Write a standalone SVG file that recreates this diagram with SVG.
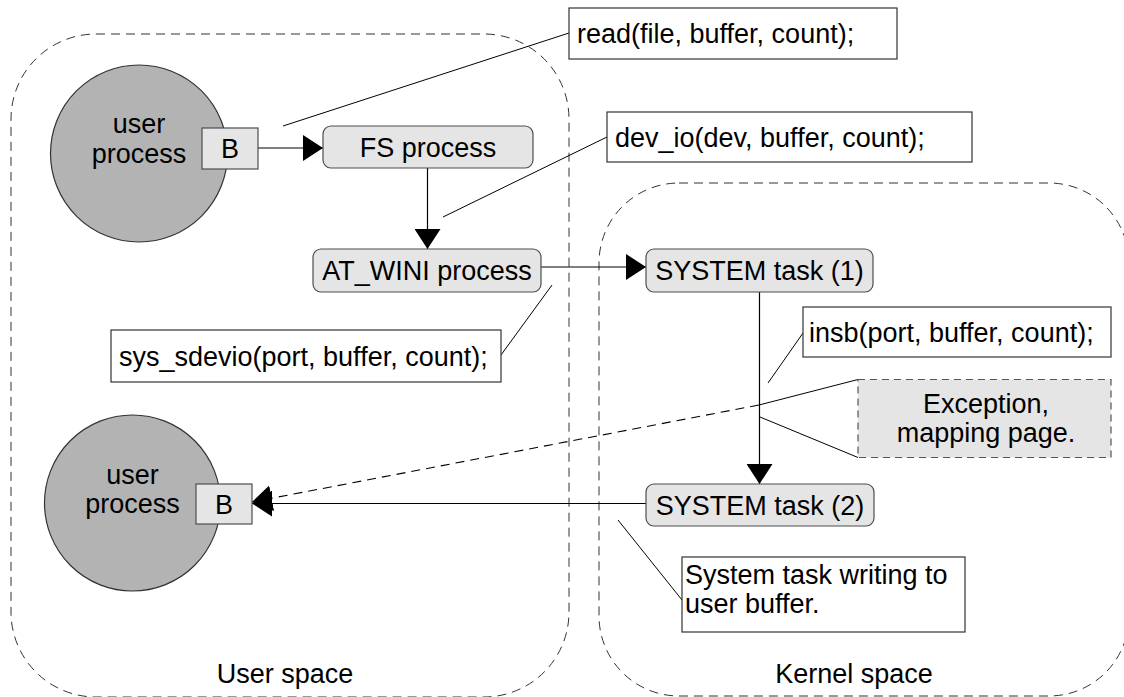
<svg xmlns="http://www.w3.org/2000/svg" width="1124" height="697" viewBox="0 0 1124 697">
  <style>
    text { font-family: "Liberation Sans", Arial, sans-serif; font-size: 27px; fill: #000; }
    .mid { text-anchor: middle; }
    .region { fill: none; stroke: #333; stroke-width: 1; stroke-dasharray: 9 6; }
    .proc { fill: #b3b3b3; stroke: #333; stroke-width: 1.2; }
    .buf { fill: #e5e5e5; stroke: #4d4d4d; stroke-width: 1.2; }
    .task { fill: #e5e5e5; stroke: #4d4d4d; stroke-width: 1.2; }
    .note { fill: #fff; stroke: #333; stroke-width: 1.2; }
    .exc { fill: #e5e5e5; stroke: #555; stroke-width: 1.2; stroke-dasharray: 7 5; }
    .flow { fill: none; stroke: #000; stroke-width: 1.2; }
    .dflow { fill: none; stroke: #000; stroke-width: 1.1; stroke-dasharray: 9 6; }
    .lead { fill: none; stroke: #000; stroke-width: 1; }
  </style>
  <defs>
    <marker id="arrow" markerUnits="userSpaceOnUse" markerWidth="20" markerHeight="26" refX="20" refY="13" orient="auto">
      <path d="M0,0 L20,13 L0,26 Z" fill="#000"/>
    </marker>
  </defs>

  <!-- address-space regions -->
  <g id="user-space">
    <rect class="region" x="11" y="34" width="558" height="663" rx="85" ry="85"/>
    <text class="mid" x="285" y="683">User space</text>
  </g>
  <g id="kernel-space">
    <rect class="region" x="599" y="183" width="530" height="513" rx="80" ry="80"/>
    <text class="mid" x="854" y="683">Kernel space</text>
  </g>

  <!-- connectors and callout leaders -->
  <g id="connectors">
    <line class="flow" x1="258" y1="148" x2="323" y2="148" marker-end="url(#arrow)"/>
    <line class="flow" x1="427.5" y1="168" x2="427.5" y2="249" marker-end="url(#arrow)"/>
    <line class="flow" x1="541" y1="267" x2="646" y2="267" marker-end="url(#arrow)"/>
    <line class="flow" x1="759.5" y1="292" x2="759.5" y2="484" marker-end="url(#arrow)"/>
    <line class="flow" x1="646" y1="503.5" x2="252" y2="503.5" marker-end="url(#arrow)"/>
    <line class="dflow" x1="759" y1="405" x2="252" y2="502" marker-end="url(#arrow)"/>

    <line class="lead" x1="569" y1="33" x2="283" y2="126"/>
    <line class="lead" x1="607" y1="137" x2="443" y2="217"/>
    <line class="lead" x1="501" y1="355" x2="552" y2="285"/>
    <line class="lead" x1="803" y1="333" x2="768" y2="383"/>
    <line class="lead" x1="858" y1="379.5" x2="759" y2="405"/>
    <line class="lead" x1="858" y1="457.5" x2="760" y2="417"/>
    <line class="lead" x1="682" y1="600" x2="618" y2="520"/>
  </g>

  <!-- processes -->
  <g id="user-process-1">
    <circle class="proc" cx="139" cy="153.5" r="88.5"/>
    <text class="mid" x="139" y="133">user</text>
    <text class="mid" x="139" y="163">process</text>
  </g>
  <g id="buffer-1">
    <rect class="buf" x="202" y="128" width="56" height="41"/>
    <text class="mid" x="230" y="158">B</text>
  </g>
  <g id="user-process-2">
    <circle class="proc" cx="132.5" cy="503" r="88"/>
    <text class="mid" x="132.5" y="484">user</text>
    <text class="mid" x="132.5" y="513">process</text>
  </g>
  <g id="buffer-2">
    <rect class="buf" x="196" y="484" width="56" height="40"/>
    <text class="mid" x="224" y="513.5">B</text>
  </g>
  <g id="fs-process">
    <rect class="task" x="323" y="126" width="210" height="42" rx="8" ry="8"/>
    <text class="mid" x="428" y="156.5">FS process</text>
  </g>
  <g id="at-wini-process">
    <rect class="task" x="313" y="249" width="228" height="43" rx="8" ry="8"/>
    <text class="mid" x="427" y="280">AT_WINI process</text>
  </g>
  <g id="system-task-1">
    <rect class="task" x="646" y="249" width="227" height="43" rx="8" ry="8"/>
    <text class="mid" x="759.5" y="280">SYSTEM task (1)</text>
  </g>
  <g id="system-task-2">
    <rect class="task" x="646" y="484" width="228" height="42" rx="8" ry="8"/>
    <text class="mid" x="760" y="514.5">SYSTEM task (2)</text>
  </g>

  <!-- call annotations -->
  <g id="note-read">
    <rect class="note" x="569" y="8" width="328" height="51"/>
    <text x="577" y="42.5">read(file, buffer, count);</text>
  </g>
  <g id="note-dev-io">
    <rect class="note" x="607" y="112" width="365" height="50"/>
    <text x="615" y="146.5">dev_io(dev, buffer, count);</text>
  </g>
  <g id="note-sys-sdevio">
    <rect class="note" x="111" y="330" width="390" height="52"/>
    <text x="119" y="365.5">sys_sdevio(port, buffer, count);</text>
  </g>
  <g id="note-insb">
    <rect class="note" x="803" y="307" width="308" height="50"/>
    <text x="809" y="341.5">insb(port, buffer, count);</text>
  </g>
  <g id="note-exception">
    <rect class="exc" x="858" y="379.5" width="253" height="78"/>
    <text class="mid" x="986" y="412.5">Exception,</text>
    <text class="mid" x="986" y="441.5">mapping page.</text>
  </g>
  <g id="note-system-write">
    <rect class="note" x="682" y="557" width="283" height="75"/>
    <text x="685" y="584">System task writing to</text>
    <text x="685" y="613">user buffer.</text>
  </g>
</svg>
